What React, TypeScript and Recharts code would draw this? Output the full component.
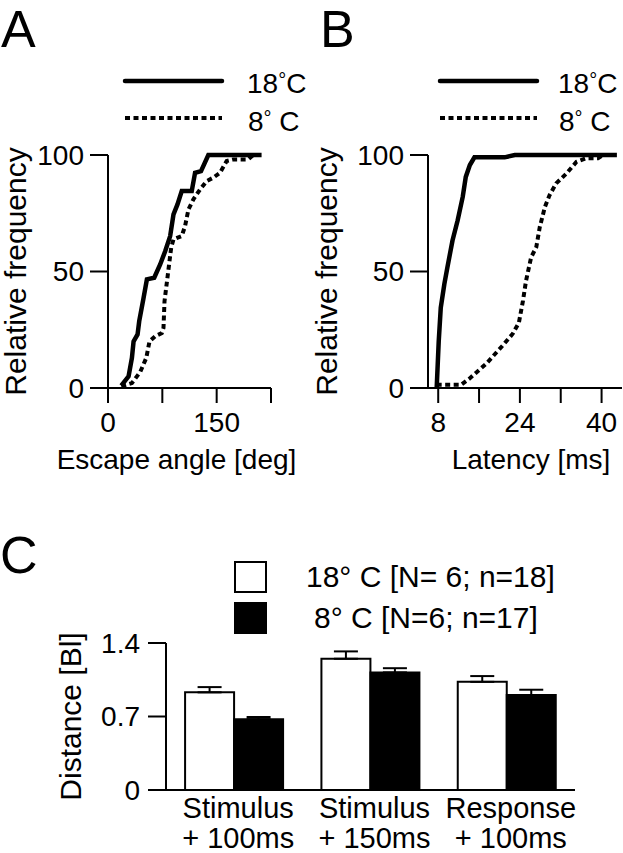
import React from 'react';
import { LineChart, Line, XAxis, YAxis, BarChart, Bar, ErrorBar, Legend } from 'recharts';

const FONT = '"Liberation Sans", Arial, Helvetica, sans-serif';

// Panel A: cumulative escape angle distributions
const angle18 = [18.3, 28.4, 33, 35.3, 40.8, 43.1, 49.1, 53.7, 63.8, 72, 78.9, 85.8, 90.4, 95.9, 101.8, 115.6, 120.2, 128.4, 138.5, 212];
const angleFreq18 = [1, 5, 12.9, 20, 23, 28.7, 38.7, 46.6, 47.3, 53, 58.7, 65.2, 74.5, 78.8, 84.5, 84.5, 92.4, 93.1, 100, 100];
const angle8 = [18.3, 33, 37.6, 44.5, 52.8, 57.3, 65.1, 74.3, 76.6, 78, 82.6, 87.2, 90.4, 101.8, 106.4, 111, 117.9, 127.1, 136.2, 145.4, 154.6, 163.8, 172.9, 193.6, 200.5, 212];
const angleFreq8 = [0.7, 2.1, 4, 6.9, 12.9, 20, 22.2, 23.6, 25.8, 37.2, 48.7, 60.2, 63.8, 65.2, 69.5, 76.6, 81, 85.2, 88.8, 90.3, 92.4, 97.4, 98.1, 98.1, 100, 100];
const angleTicks = [0, 75, 150, 225];
const angleTickLabels = [0, 150];

// Panel B: cumulative latency distributions
const latency18 = [7.7, 8.1, 8.5, 9.2, 9.8, 10.8, 11.8, 12.8, 13.4, 14.2, 15.1, 21, 23, 43];
const latencyFreq18 = [0, 20, 34.5, 44.6, 51.8, 63.3, 71.9, 82, 90.6, 95.7, 99, 99, 100, 100];
const latency8 = [7.7, 12.5, 14.1, 17.4, 20.7, 22.6, 23.8, 24.6, 25.2, 26.2, 27.2, 27.9, 28.9, 29.8, 31.1, 33.1, 35.1, 37, 39.3, 40.3, 42.6];
const latencyFreq8 = [1.4, 1.4, 4, 10.4, 18.4, 23.3, 28, 37.4, 46, 56.1, 60.4, 69.1, 77.7, 82.7, 87.8, 92, 97.1, 98.6, 98.6, 100, 100];
const latencyTicks = [8, 16, 24, 32, 40];
const latencyTickLabels = [8, 24, 40];

const freqTicks = [0, 50, 100];

// Panel C: distance travelled
const categoryTop = ['Stimulus', 'Stimulus', 'Response'];
const categoryBottom = ['+ 100ms', '+ 150ms', '+ 100ms'];
const distance18 = [0.93, 1.25, 1.03];
const sem18 = [0.05, 0.07, 0.055];
const distance8 = [0.675, 1.12, 0.905];
const sem8 = [0.02, 0.04, 0.05];
const distanceTicks = [0, 0.7, 1.4];

const toPoints = (xs: number[], ys: number[]) => xs.map((x, i) => ({ x, y: ys[i] }));

const barData = categoryTop.map((top, i) => ({
  name: `${top} ${categoryBottom[i]}`,
  warm: distance18[i],
  warmErr: [0, sem18[i]],
  cold: distance8[i],
  coldErr: [0, sem8[i]],
}));

const tickStyle = { fill: '#000', fontSize: 28, fontFamily: FONT };
const axisStroke = { stroke: '#000', strokeWidth: 2 };

const lineSeries = [
  { key: 't18', temp: '18', space: false, width: 4.5, dash: undefined as string | undefined },
  { key: 't8', temp: '8', space: true, width: 4, dash: '5 3.5' },
];

const TempText = ({ x, y, temp, space }: { x: number; y: number; temp: string; space: boolean }) => (
  <text x={x} y={y} fontSize={28} fontFamily={FONT} fill="#000">
    {temp}
    <tspan fontSize={20} dy={-6}>°</tspan>
    <tspan dy={6}>{space ? '\u00a0C' : 'C'}</tspan>
  </text>
);

const LineLegend = ({ textX }: { textX: number }) => (
  <svg width={200} height={80} style={{ overflow: 'visible', display: 'block' }}>
    {lineSeries.map((s, i) => (
      <g key={s.key}>
        <line
          x1={5}
          x2={102}
          y1={21 + i * 37}
          y2={21 + i * 37}
          stroke="#000"
          strokeWidth={s.width}
          strokeDasharray={s.dash}
          strokeLinecap={s.dash ? 'butt' : 'round'}
        />
        <TempText x={textX + (s.space ? 1 : 0)} y={33 + i * 38} temp={s.temp} space={s.space} />
      </g>
    ))}
  </svg>
);

const BarLegend = () => (
  <svg width={340} height={90} style={{ overflow: 'visible', display: 'block' }}>
    <rect x={5} y={7} width={31} height={30} fill="#fff" stroke="#000" strokeWidth={2} />
    <rect x={5} y={48} width={31} height={30} fill="#000" stroke="#000" strokeWidth={2} />
    <text x={76} y={32} fontSize={30} fontFamily={FONT} fill="#000">18° C [N= 6; n=18]</text>
    <text x={84} y={73} fontSize={30} fontFamily={FONT} fill="#000">8° C [N=6; n=17]</text>
  </svg>
);

const CategoryTick = (props: any) => {
  const { x, y, index } = props;
  return (
    <text x={x + 4} y={y} textAnchor="middle" fontSize={29} fontFamily={FONT} fill="#000">
      <tspan x={x + 4} dy={28}>{categoryTop[index]}</tspan>
      <tspan x={x + 4} dy={30}>{categoryBottom[index]}</tspan>
    </text>
  );
};

const FreqPanel = (p: {
  d18: { x: number; y: number }[];
  d8: { x: number; y: number }[];
  domain: [number, number];
  ticks: number[];
  shown: number[];
  width: number;
  yAxisWidth: number;
  right: number;
  xLabel: string;
  xLabelDx: number;
  yLabelOffset: number;
  legendLeft: number;
  legendTextX: number;
}) => (
  <LineChart
    width={p.width}
    height={480}
    margin={{ top: 155, right: p.right, bottom: 0, left: 0 }}
    style={{ fontFamily: FONT }}
  >
    <XAxis
      type="number"
      dataKey="x"
      domain={p.domain}
      allowDataOverflow
      ticks={p.ticks}
      interval={0}
      tickFormatter={(v: number) => (p.shown.includes(v) ? String(v) : '')}
      tick={tickStyle}
      tickSize={15}
      tickMargin={9}
      height={92}
      axisLine={axisStroke}
      tickLine={axisStroke}
      label={{ value: p.xLabel, position: 'insideBottom', offset: 11, dx: p.xLabelDx, fill: '#000', fontSize: 28, fontFamily: FONT }}
    />
    <YAxis
      type="number"
      domain={[0, 100]}
      ticks={freqTicks}
      interval={0}
      tick={tickStyle}
      tickSize={18}
      tickMargin={6}
      width={p.yAxisWidth}
      axisLine={axisStroke}
      tickLine={axisStroke}
      label={{
        value: 'Relative frequency',
        angle: -90,
        position: 'insideLeft',
        offset: p.yLabelOffset,
        fill: '#000',
        fontSize: 30,
        fontFamily: FONT,
        style: { textAnchor: 'middle' },
      }}
    />
    <Legend
      layout="vertical"
      align="center"
      verticalAlign="middle"
      wrapperStyle={{ left: p.legendLeft, top: 60, width: 200, height: 80 }}
      content={() => <LineLegend textX={p.legendTextX} />}
    />
    <Line
      data={p.d18}
      dataKey="y"
      name="18°C"
      type="linear"
      stroke="#000"
      strokeWidth={4.5}
      dot={false}
      isAnimationActive={false}
    />
    <Line
      data={p.d8}
      dataKey="y"
      name="8° C"
      type="linear"
      stroke="#000"
      strokeWidth={4}
      strokeDasharray="5 3.5"
      dot={false}
      isAnimationActive={false}
    />
  </LineChart>
);

export default function App() {
  return (
    <div
      style={{
        position: 'absolute',
        left: 0,
        top: 0,
        width: 623,
        height: 853,
        background: '#fff',
        overflow: 'hidden',
        fontFamily: FONT,
      }}
    >
      <svg width={623} height={853} style={{ position: 'absolute', left: 0, top: 0 }}>
        <text x={1} y={47} fontSize={52} fontFamily={FONT} fill="#000">A</text>
        <text x={320} y={47} fontSize={52} fontFamily={FONT} fill="#000">B</text>
        <text x={0} y={573} fontSize={52} fontFamily={FONT} fill="#000">C</text>
      </svg>

      <div style={{ position: 'absolute', left: 0, top: 0 }}>
        <FreqPanel
          d18={toPoints(angle18, angleFreq18)}
          d8={toPoints(angle8, angleFreq8)}
          domain={[0, 225]}
          ticks={angleTicks}
          shown={angleTickLabels}
          width={300}
          yAxisWidth={108}
          right={29}
          xLabel="Escape angle [deg]"
          xLabelDx={-13}
          yLabelOffset={15.5}
          legendLeft={120}
          legendTextX={127}
        />
      </div>

      <div style={{ position: 'absolute', left: 300, top: 0 }}>
        <FreqPanel
          d18={toPoints(latency18, latencyFreq18)}
          d8={toPoints(latency8, latencyFreq8)}
          domain={[6, 44]}
          ticks={latencyTicks}
          shown={latencyTickLabels}
          width={323}
          yAxisWidth={128}
          right={1}
          xLabel="Latency [ms]"
          xLabelDx={6}
          yLabelOffset={26}
          legendLeft={135}
          legendTextX={123}
        />
      </div>

      <div style={{ position: 'absolute', left: 0, top: 500 }}>
        <BarChart
          width={623}
          height={353}
          data={barData}
          margin={{ top: 143, right: 48, bottom: 0, left: 0 }}
          barCategoryGap="14%"
          barGap={0}
          style={{ fontFamily: FONT }}
        >
          <XAxis
            dataKey="name"
            tick={<CategoryTick />}
            tickLine={false}
            tickSize={0}
            tickMargin={0}
            interval={0}
            height={63}
            axisLine={axisStroke}
          />
          <YAxis
            type="number"
            domain={[0, 1.4]}
            ticks={distanceTicks}
            interval={0}
            tickFormatter={(v: number) => String(v)}
            tick={tickStyle}
            tickSize={18}
            tickMargin={8}
            width={166}
            axisLine={axisStroke}
            tickLine={axisStroke}
            label={{
              value: 'Distance [Bl]',
              angle: -90,
              position: 'insideLeft',
              offset: 70,
              fill: '#000',
              fontSize: 30,
              fontFamily: FONT,
              style: { textAnchor: 'middle' },
            }}
          />
          <Legend
            layout="vertical"
            align="center"
            verticalAlign="middle"
            wrapperStyle={{ left: 230, top: 55, width: 340, height: 90 }}
            content={() => <BarLegend />}
          />
          <Bar dataKey="warm" name="18° C" fill="#fff" stroke="#000" strokeWidth={2} isAnimationActive={false}>
            <ErrorBar dataKey="warmErr" width={12} stroke="#000" strokeWidth={2} direction="y" />
          </Bar>
          <Bar dataKey="cold" name="8° C" fill="#000" stroke="#000" strokeWidth={2} isAnimationActive={false}>
            <ErrorBar dataKey="coldErr" width={12} stroke="#000" strokeWidth={2} direction="y" />
          </Bar>
        </BarChart>
      </div>
    </div>
  );
}
